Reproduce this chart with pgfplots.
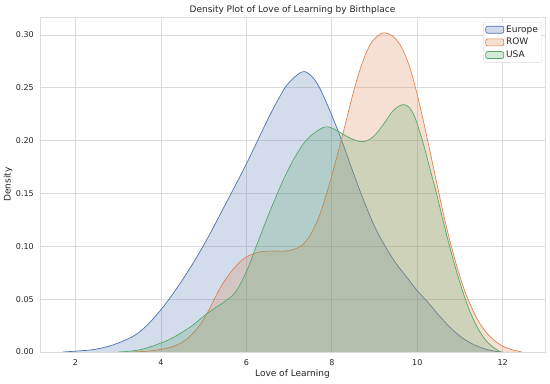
\documentclass[border=0pt]{standalone}
\usepackage{fontspec}
\setmainfont{DejaVu Sans}
\usepackage{pgfplots}
\usepackage{pgfplotstable}
\pgfplotsset{compat=1.18}
\definecolor{cblue}{HTML}{4C72B0}
\definecolor{corange}{HTML}{DD8452}
\definecolor{cgreen}{HTML}{55A868}
\definecolor{gridc}{RGB}{220,220,220}
\definecolor{txt}{RGB}{38,38,38}

\pgfplotstableread{
x y
1.70 0.0000
2.00 0.0008
2.50 0.0028
3.00 0.0085
3.50 0.0190
4.00 0.0400
4.50 0.0680
5.00 0.1010
5.50 0.1390
6.00 0.1780
6.50 0.2200
6.80 0.2430
7.00 0.2550
7.30 0.2650
7.50 0.2620
7.70 0.2510
8.00 0.2240
8.25 0.1980
8.50 0.1700
8.75 0.1430
9.00 0.1190
9.25 0.1000
9.50 0.0840
9.75 0.0710
10.00 0.0580
10.25 0.0470
10.50 0.0350
10.75 0.0240
11.00 0.0150
11.25 0.0085
11.50 0.0040
11.75 0.0012
12.00 0.0000
}\europe

\pgfplotstableread{
x y
3.30 0.0000
3.70 0.0008
4.00 0.0025
4.30 0.0055
4.60 0.0120
4.90 0.0250
5.10 0.0380
5.30 0.0540
5.50 0.0680
5.75 0.0810
6.00 0.0900
6.30 0.0945
6.60 0.0955
6.90 0.0955
7.10 0.0970
7.30 0.1010
7.50 0.1110
7.70 0.1280
7.90 0.1530
8.10 0.1820
8.30 0.2130
8.50 0.2450
8.70 0.2720
8.90 0.2910
9.10 0.3000
9.25 0.3020
9.45 0.2980
9.65 0.2870
9.85 0.2660
10.05 0.2350
10.25 0.1990
10.45 0.1610
10.65 0.1240
10.85 0.0920
11.05 0.0650
11.25 0.0440
11.45 0.0280
11.65 0.0170
11.90 0.0080
12.15 0.0030
12.45 0.0000
}\row

\pgfplotstableread{
x y
3.00 0.0000
3.50 0.0020
4.00 0.0085
4.30 0.0140
4.70 0.0240
5.10 0.0370
5.50 0.0480
5.75 0.0570
6.00 0.0760
6.25 0.1020
6.50 0.1280
6.80 0.1570
7.05 0.1780
7.30 0.1950
7.55 0.2060
7.85 0.2130
8.10 0.2100
8.40 0.2030
8.70 0.1990
8.95 0.2030
9.20 0.2150
9.45 0.2290
9.70 0.2340
9.90 0.2260
10.10 0.2030
10.30 0.1730
10.45 0.1500
10.60 0.1250
10.75 0.1010
10.90 0.0790
11.10 0.0530
11.30 0.0320
11.50 0.0170
11.70 0.0070
11.95 0.0000
}\usa

\begin{document}
\begin{tikzpicture}
\begin{axis}[
  scale only axis, width=505pt, height=335pt,
  xmin=1.17, xmax=12.99, ymin=0, ymax=0.317,
  xtick={2,4,6,8,10,12},
  ytick={0,0.05,0.10,0.15,0.20,0.25,0.30},
  y tick label style={/pgf/number format/.cd, fixed, fixed zerofill, precision=2, /tikz/.cd},
  /pgf/number format/assume math mode=true,
  grid=major, major grid style={gridc, line width=0.8pt},
  axis line style={gridc, line width=0.8pt},
  major tick length=0pt,
  tick label style={font=\fontsize{8}{9}\selectfont, text=txt},
  xticklabel style={anchor=base, yshift=-14pt},
  yticklabel style={anchor=east, inner sep=0pt, xshift=-6pt},
  every axis title shift=0pt,
  title={Density Plot of Love of Learning by Birthplace},
  title style={at={(0.5,1)}, anchor=base, yshift=4pt, font=\fontsize{9}{10}\selectfont, text=txt},
  xlabel={Love of Learning},
  xlabel style={at={(0.5,0)}, anchor=base, yshift=-25pt, font=\fontsize{9}{10}\selectfont, text=txt},
  ylabel={Density},
  ylabel style={at={(-0.0584,0.5)}, anchor=base, font=\fontsize{9}{10}\selectfont, text=txt},
  legend style={at={(0.994,0.985)}, anchor=north east, draw=gridc, rounded corners=2pt, fill=white,
    font=\fontsize{9}{10.8}\selectfont, text=txt, inner xsep=2pt, inner ysep=1.5pt, row sep=0.5pt,
    cells={anchor=west}},
]
\addplot[draw=none, fill=cblue, fill opacity=0.25, smooth, tension=0.6,
  legend image code/.code={\draw[fill=cblue, fill opacity=0.25, draw=cblue, line width=0.7pt] (0pt,-3.5pt) rectangle (18pt,3.5pt);}]
  table {\europe} \closedcycle;
\addlegendentry{Europe}
\addplot[cblue, line width=0.7pt, smooth, tension=0.6, forget plot] table {\europe};

\addplot[draw=none, fill=corange, fill opacity=0.25, smooth, tension=0.6,
  legend image code/.code={\draw[fill=corange, fill opacity=0.25, draw=corange, line width=0.7pt] (0pt,-3.5pt) rectangle (18pt,3.5pt);}]
  table {\row} \closedcycle;
\addlegendentry{ROW}
\addplot[corange, line width=0.7pt, smooth, tension=0.6, forget plot] table {\row};

\addplot[draw=none, fill=cgreen, fill opacity=0.25, smooth, tension=0.6,
  legend image code/.code={\draw[fill=cgreen, fill opacity=0.25, draw=cgreen, line width=0.7pt] (0pt,-3.5pt) rectangle (18pt,3.5pt);}]
  table {\usa} \closedcycle;
\addlegendentry{USA}
\addplot[cgreen, line width=0.7pt, smooth, tension=0.6, forget plot] table {\usa};
\end{axis}
\pgfresetboundingbox
\path[use as bounding box] ([xshift=-40pt,yshift=-32pt]current axis.south west) rectangle ([xshift=5pt,yshift=17pt]current axis.north east);
\end{tikzpicture}
\end{document}
